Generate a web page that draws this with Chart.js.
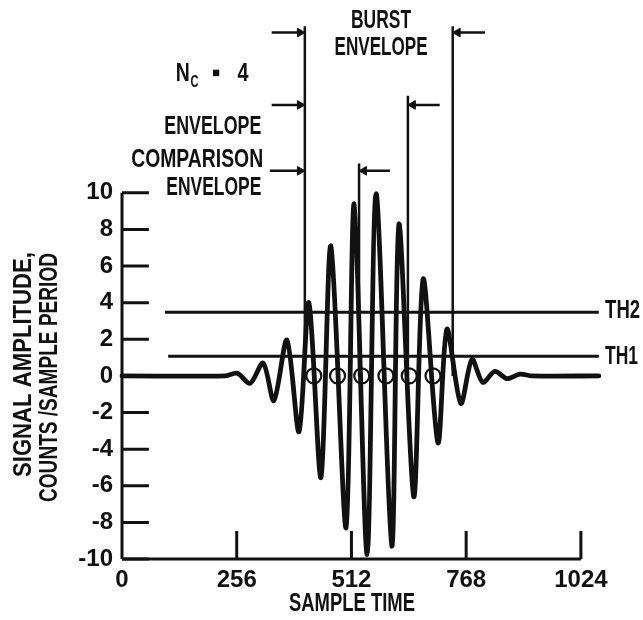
<!DOCTYPE html>
<html><head><meta charset="utf-8">
<script src="https://cdn.jsdelivr.net/npm/chart.js@4/dist/chart.umd.min.js"></script>
<style>html,body{margin:0;padding:0;background:#fff;} #wrap{width:643px;height:620px;}</style>
</head><body><div id="wrap"><canvas id="c" width="643" height="620"></canvas></div>
<script>
// ---- data ----
const xTicks = [0, 256, 512, 768, 1024];
const yTicks = [-10, -8, -6, -4, -2, 0, 2, 4, 6, 8, 10];
const waveX = [0, 230, 257, 286, 315, 339, 368, 395, 417, 444, 466, 500, 518, 547, 567, 602, 618, 651, 672, 705, 725, 756, 781, 805, 832, 859, 888, 915, 1064];
const waveY = [0, 0, 0.15, -0.4, 0.7, -1.35, 1.96, -3.05, 4.0, -5.55, 7.1, -8.3, 9.4, -9.75, 9.95, -9.3, 8.3, -6.6, 5.3, -3.65, 2.55, -1.5, 0.9, -0.35, 0.25, -0.15, 0.1, 0, 0];
const crossX = [428, 481, 535, 589, 641, 694];
const thNames = ['TH2', 'TH1'];
const thLevel = [3.47, 1.07];
const thStart = [96, 103];
const thEnd = [1064, 1064];
const envNames = ['BURST ENVELOPE', 'NC = 4 ENVELOPE', 'COMPARISON ENVELOPE'];
const envStart = [408, 408, 408];
const envEnd = [738, 638, 529];
const envTop = [19.1, 15.3, 11.6];
const arrowLevel = [18.75, 14.8, 11.2];
const arrowTailLeft = [334, 334, 330];
const arrowTailRight = [810, 709, 598];

// ---- build ----
const BLACK = '#111';
const FONT = '"Liberation Sans Narrow", "Liberation Sans", "DejaVu Sans Condensed", sans-serif';
Chart.defaults.font.family = FONT;
Chart.defaults.font.weight = 'bold';
Chart.defaults.color = BLACK;

function seg(list){ // list of [[x1,y1],[x2,y2]]
  const out = [];
  list.forEach(s => { out.push({x:s[0][0], y:s[0][1]}); out.push({x:s[1][0], y:s[1][1]}); out.push({x:s[1][0], y:null}); });
  return out;
}
const lineDs = (data, w) => ({data, borderColor:BLACK, borderWidth:w, pointRadius:0, showLine:true, spanGaps:false, clip:false, borderCapStyle:'butt', fill:false});

const yTickLen = 60, xTickLen = 1.53;
const tickSegs = yTicks.map(v => [[0, v], [yTickLen, v]]).concat(xTicks.slice(1).map(v => [[v, -10], [v, -10 + xTickLen]]));
const axisSegs = [[[0, -10], [0, 10]], [[0, -10], [xTicks[xTicks.length-1], -10]]];
const thSegs = thLevel.map((v, i) => [[thStart[i], v], [thEnd[i], v]]);
const vertSegs = [[[envStart[0], Math.max(...envTop)], [envStart[0], 0]]].concat(envEnd.map((x, i) => [[x, envTop[i]], [x, 0]]));
const head = 11;
const shaftSegs = [];
const heads = [];
arrowLevel.forEach((y, i) => {
  shaftSegs.push([[arrowTailLeft[i], y], [envStart[i] - head, y]]);
  shaftSegs.push([[arrowTailRight[i], y], [envEnd[i] + head, y]]);
  heads.push({x: envStart[i] - head, y, r: 90});
  heads.push({x: envEnd[i] + head, y, r: 270});
});

const datasets = [
  lineDs(seg(axisSegs), 3),
  lineDs(seg(tickSegs), 3),
  lineDs(seg(thSegs), 3),
  lineDs(seg(vertSegs), 2.5),
  lineDs(seg(shaftSegs), 2.5),
  {data: heads, showLine:false, pointStyle:'triangle', pointRadius:5, pointRotation: c => heads[c.dataIndex] ? heads[c.dataIndex].r : 0, backgroundColor:BLACK, borderColor:BLACK, borderWidth:1, clip:false},
  Object.assign(lineDs(waveX.map((x, i) => ({x, y: waveY[i]})), 4.8), {tension:0.3, borderJoinStyle:'round', borderCapStyle:'round'}),
  {data: crossX.map(x => ({x, y:0})), showLine:false, pointStyle:'circle', pointRadius:7.5, borderWidth:2.2, borderColor:BLACK, backgroundColor:'rgba(0,0,0,0)', clip:false}
];

function fitText(ctx, text, x, y, width, align, size){
  ctx.save();
  ctx.font = 'bold ' + size + 'px ' + FONT;
  const w = ctx.measureText(text).width;
  ctx.translate(x, y);
  ctx.scale(width / w, 1);
  ctx.textAlign = align; ctx.textBaseline = 'middle'; ctx.fillStyle = BLACK;
  ctx.fillText(text, 0, 0);
  ctx.restore();
}

const FS = 26;
const textPlugin = {
  id: 'texts',
  afterDatasetsDraw(chart){
    const ctx = chart.ctx, xs = chart.scales.x, ys = chart.scales.y;
    const X = v => xs.getPixelForValue(v), Y = v => ys.getPixelForValue(v);
    // burst envelope label
    fitText(ctx, 'BURST', X(578), Y(19.4), 60, 'center', FS);
    fitText(ctx, 'ENVELOPE', X(578), Y(17.9), 93, 'center', FS);
    // Nc = 4 envelope label
    fitText(ctx, 'N', X(120), Y(16.5), 14, 'left', FS);
    fitText(ctx, 'C', X(153), Y(16.0), 8, 'left', 16);
    fitText(ctx, '\u25AA', X(210), Y(16.5), 9, 'center', FS);
    fitText(ctx, '4', X(270), Y(16.5), 11, 'center', FS);
    fitText(ctx, 'ENVELOPE', X(311), Y(13.6), 97, 'right', FS);
    // comparison envelope label
    fitText(ctx, 'COMPARISON', X(315), Y(11.8), 132, 'right', FS);
    fitText(ctx, 'ENVELOPE', X(311), Y(10.25), 95, 'right', FS);
    // thresholds
    fitText(ctx, thNames[0], X(1078), Y(3.57), 35, 'left', FS);
    fitText(ctx, thNames[1], X(1078), Y(1.06), 33, 'left', FS);
    // axis titles
    fitText(ctx, 'SAMPLE TIME', 352, 604, 126, 'center', FS);
    ctx.save(); ctx.translate(24, 364.5); ctx.rotate(-Math.PI/2);
    fitText(ctx, 'SIGNAL AMPLITUDE,', 0, 0, 225, 'center', FS);
    ctx.restore();
    ctx.save(); ctx.translate(50, 377.5); ctx.rotate(-Math.PI/2);
    fitText(ctx, 'COUNTS /SAMPLE PERIOD', 0, 0, 249, 'center', FS);
    ctx.restore();
  }
};

new Chart(document.getElementById('c'), {
  type: 'line',
  data: {datasets},
  options: {
    responsive: false, animation: false, events: [],
    layout: {padding: {top: 8.5, right: 41.5, left: 0, bottom: 0}},
    plugins: {legend: {display: false}, tooltip: {enabled: false}},
    scales: {
      x: {type: 'linear', min: 0, max: 1070,
        grid: {display: false, drawTicks: false}, border: {display: false},
        afterBuildTicks: s => { s.ticks = xTicks.map(v => ({value: v})); },
        ticks: {autoSkip: false, maxRotation: 0, padding: 7, color: BLACK, font: {size: 24, weight: 'bold'}, callback: v => String(v)},
        afterFit: s => { s.height = 61; s.paddingLeft = 0; s.paddingRight = 0; }
      },
      y: {type: 'linear', min: -10, max: 20,
        grid: {display: false, drawTicks: false}, border: {display: false},
        afterBuildTicks: s => { s.ticks = yTicks.map(v => ({value: v})); },
        ticks: {autoSkip: false, padding: 9, color: BLACK, font: {size: 24, weight: 'bold'}, callback: v => String(v)},
        afterFit: s => { s.width = 122; s.paddingTop = 0; s.paddingBottom = 0; }
      }
    }
  },
  plugins: [textPlugin]
});
</script></body></html>
